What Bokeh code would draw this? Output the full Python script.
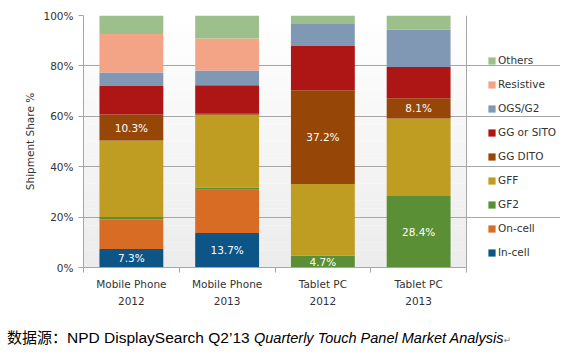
from bokeh.plotting import figure
from bokeh.layouts import column
from bokeh.models import (Range1d, FixedTicker, PrintfTickFormatter, Legend, LegendItem,
                          ColumnDataSource, Div, Span)
from bokeh.core.properties import value
from bokeh.embed import file_html
from bokeh.resources import INLINE

# ---------------- data ----------------
categories = ["Mobile Phone\n2012", "Mobile Phone\n2013", "Tablet PC\n2012", "Tablet PC\n2013"]
series = ["In-cell", "On-cell", "GF2", "GFF", "GG DITO", "GG or SITO", "OGS/G2", "Resistive", "Others"]
in_cell    = [7.3, 13.7, 0.0, 0.0]
on_cell    = [11.7, 17.2, 0.0, 0.0]
gf2        = [1.0, 0.8, 4.7, 28.4]
gff        = [30.4, 28.9, 28.4, 30.7]
gg_dito    = [10.3, 0.4, 37.2, 8.1]
gg_sito    = [11.3, 11.3, 17.6, 12.4]
ogs_g2     = [5.4, 5.9, 9.0, 14.8]
resistive  = [15.3, 12.7, 0.0, 0.0]
others     = [7.3, 9.1, 3.1, 5.6]
colors = ["#0d5586", "#d96c24", "#5a8f36", "#bf9c22", "#964607", "#ae1515", "#8198b5", "#f3a487", "#9dbf8c"]
# which segments carry a value label: (bar index, series index)
labelled = [(0, 0), (0, 4), (1, 0), (2, 2), (2, 4), (3, 2), (3, 4)]
y_ticks = [0, 20, 40, 60, 80, 100]
caption_parts = ["数据源：", "NPD DisplaySearch Q2’13", "Quarterly  Touch Panel Market Analysis", "↵"]

values = [in_cell, on_cell, gf2, gff, gg_dito, gg_sito, ogs_g2, resistive, others]
n = len(categories)
xs = [i + 0.5 for i in range(n)]

FONT = "DejaVu Sans"
GRAY = "#a6a6a6"
TXT = "#333333"
W = 560
H_MAIN = 318
H_CAP = 35
LEFT = 83          # plot-area left edge in px
AREA_W = 383       # visible plot-area width in px
FRAME_W = W - LEFT  # frame runs to the right edge so the legend is not clipped
x_max = n * FRAME_W / AREA_W

p = figure(width=W, height=H_MAIN, output_backend="svg", toolbar_location=None,
           x_range=Range1d(0, x_max), y_range=Range1d(0, 100),
           min_border_left=LEFT, min_border_right=0, min_border_top=15, min_border_bottom=51)
p.background_fill_color = "#ffffff"
p.border_fill_color = "#ffffff"
p.outline_line_color = None

# background vertical gradient (white at top -> light gray at bottom)
nstrip = 30
bg_bottom, bg_top, bg_col = [], [], []
for k in range(nstrip):
    b = 100 * k / nstrip
    t = 100 * (k + 1) / nstrip
    f = (k + 0.5) / nstrip
    c = int(round(236 + (255 - 236) * f))
    bg_bottom.append(b); bg_top.append(t); bg_col.append("#%02x%02x%02x" % (c, c, c))
bg = p.quad(left=0, right=n, bottom=bg_bottom, top=bg_top, fill_color=bg_col, line_color=None)
bg.level = "image"

data = {"x": xs}
for name, vals in zip(series, values):
    data[name] = vals
src = ColumnDataSource(data)
renderers = p.vbar_stack(series, x="x", width=0.667, color=colors, line_color=None, source=src)

# value labels
lx, ly, lt = [], [], []
for bi, si in labelled:
    base = sum(values[s][bi] for s in range(si))
    lx.append(xs[bi]); ly.append(base + values[si][bi] / 2); lt.append(f"{values[si][bi]:.1f}%")
p.text(x=lx, y=ly, text=lt, text_color="white", text_font=value(FONT), text_font_size="10.5px",
       text_align="center", text_baseline="middle")

# right border of the plot area
p.add_layout(Span(location=n, dimension="height", line_color=GRAY, line_width=1))

# axes
p.yaxis.ticker = FixedTicker(ticks=y_ticks)
p.yaxis.formatter = PrintfTickFormatter(format="%d%%")
p.yaxis.axis_label = "Shipment Share %"
p.yaxis.axis_label_text_font = FONT
p.yaxis.axis_label_text_font_style = "normal"
p.yaxis.axis_label_text_font_size = "10.5px"
p.yaxis.axis_label_text_color = TXT
p.yaxis.axis_label_standoff = 4
p.yaxis.major_label_text_font = FONT
p.yaxis.major_label_text_font_size = "10.5px"
p.yaxis.major_label_text_color = TXT
p.yaxis.major_label_standoff = 5
p.yaxis.major_tick_out = 5
p.yaxis.major_tick_in = 0
p.yaxis.minor_tick_line_color = None
p.yaxis.major_tick_line_color = GRAY
p.yaxis.axis_line_color = GRAY

p.xaxis.bounds = (0, n)
p.xaxis.ticker = FixedTicker(ticks=xs, minor_ticks=list(range(n + 1)))
p.xaxis.major_label_overrides = {x: c for x, c in zip(xs, categories)}
p.xaxis.major_label_text_font = FONT
p.xaxis.major_label_text_font_size = "10.5px"
p.xaxis.major_label_text_color = TXT
p.xaxis.major_label_text_line_height = 1.45
p.xaxis.major_tick_line_color = None
p.xaxis.major_tick_out = 0
p.xaxis.major_tick_in = 0
p.xaxis.major_label_standoff = 5
p.xaxis.minor_tick_line_color = GRAY
p.xaxis.minor_tick_out = 5
p.xaxis.minor_tick_in = 0
p.xaxis.axis_line_color = GRAY

p.xgrid.grid_line_color = None
p.ygrid.grid_line_color = GRAY
p.ygrid.ticker = FixedTicker(ticks=y_ticks)
p.ygrid.bounds = (0, n)

# legend (top item = last series)
items = [LegendItem(label=name, renderers=[r]) for name, r in zip(series, renderers)][::-1]
legend = Legend(items=items, location=(404, 9), orientation="vertical",
                glyph_width=9, glyph_height=9, label_height=9, spacing=12,
                label_standoff=2, padding=0, margin=0,
                label_text_font=FONT, label_text_font_size="10.5px", label_text_color=TXT,
                background_fill_alpha=0, border_line_color=None)
p.add_layout(legend, "center")

# caption below the chart
cap_html = (
    '<div style="padding-top:9px; padding-left:7px; line-height:20px; white-space:nowrap; color:#000;">'
    f'<span style="font-family:\'Noto Sans CJK SC\'; font-size:15px;">{caption_parts[0]}</span>'
    f'<span style="font-family:\'Liberation Sans\'; font-size:15.5px;">{caption_parts[1]} </span>'
    f'<span style="font-family:\'Liberation Sans\'; font-size:14.5px; font-style:italic;">{caption_parts[2]}</span>'
    f'<span style="font-family:\'DejaVu Sans\'; font-size:9px; color:#888;">{caption_parts[3]}</span>'
    '</div>'
)
cap = Div(text=cap_html, width=W, height=H_CAP, margin=(0, 0, 0, 0))

layout = column(p, cap, spacing=0)
open("out.html", "w").write(file_html(layout, INLINE))
